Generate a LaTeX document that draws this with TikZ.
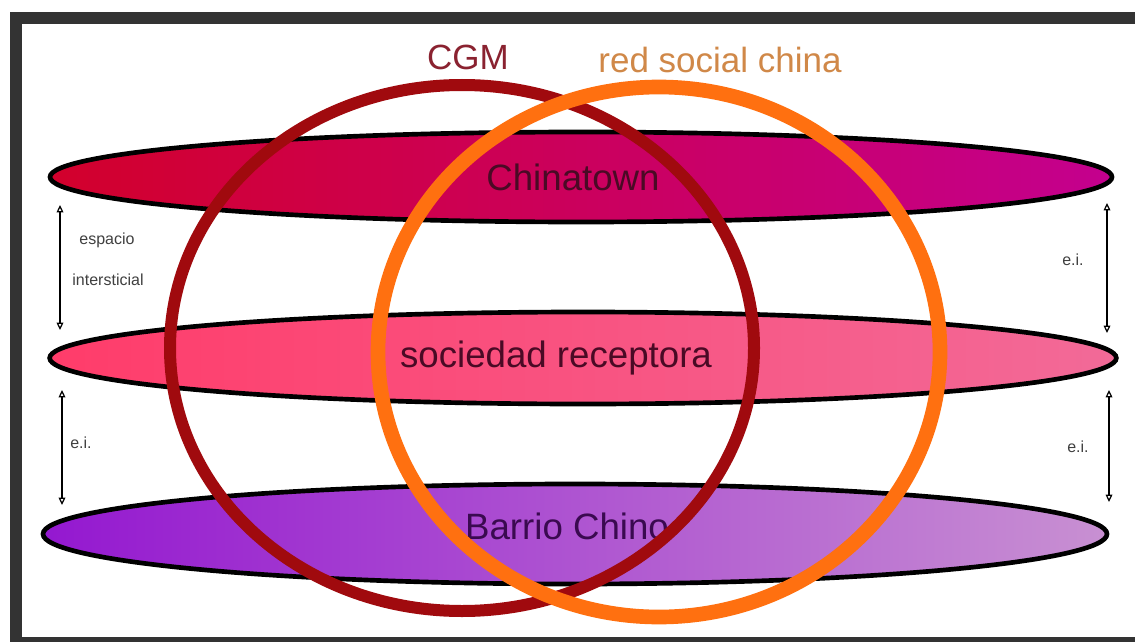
\documentclass[tikz,border=0pt]{standalone}
\usepackage{fontspec}
\setmainfont{Liberation Sans}
\usetikzlibrary{shapes.geometric,arrows.meta}
\definecolor{framec}{HTML}{333333}
\definecolor{ctL}{HTML}{D2002C}
\definecolor{ctR}{HTML}{C4008E}
\definecolor{srL}{HTML}{FF3C6A}
\definecolor{srR}{HTML}{F26A98}
\definecolor{bcL}{HTML}{9418D0}
\definecolor{bcR}{HTML}{C890D2}
\definecolor{cgmc}{HTML}{A00A0E}
\definecolor{orangec}{HTML}{FF7010}
\definecolor{cgmtxt}{HTML}{8A2230}
\definecolor{redtxt}{HTML}{D08848}
\definecolor{laytxt}{HTML}{4A0A25}
\definecolor{bctxt}{HTML}{3A0A50}
\definecolor{smalltxt}{HTML}{404040}
\tikzset{
  layer/.style={ellipse, draw=black, line width=3.5pt, inner sep=0pt, outer sep=0pt},
  ring/.style={ellipse, draw, inner sep=0pt, outer sep=0pt},
  title/.style={font=\fontsize{26.25}{30}\selectfont, inner sep=0pt},
  laylabel/.style={font=\fontsize{27.5}{30}\selectfont, inner sep=0pt},
  small/.style={font=\fontsize{12}{14}\selectfont, text=smalltxt, inner sep=0pt},
  dim/.style={{Triangle[open,length=5.5pt,width=5pt]}-{Triangle[open,length=5.5pt,width=5pt]}, line width=0.9pt, black}
}
\begin{document}
\begin{tikzpicture}[x=0.75pt,y=-0.75pt]
\useasboundingbox (0,0) rectangle (1135,642);
\fill[white] (0,0) rectangle (1135,642);
\draw[line width=9pt, framec] (16,18) rectangle (1170,643);

% layers
\node[layer, minimum width=796.5pt, minimum height=67.5pt, left color=ctL, right color=ctR] (chinatown) at (581,177) {};
\node[layer, minimum width=800pt, minimum height=69pt, left color=srL, right color=srR] (sociedad) at (583,358) {};
\node[layer, minimum width=798pt, minimum height=75pt, left color=bcL, right color=bcR] (barrio) at (575,534) {};

% labels
\node[laylabel, text=laytxt] (ctT) at (573,177) {Chinatown};
\node[laylabel, text=laytxt] (srT) at (556,358) {sociedad receptora};
\node[laylabel, text=bctxt] (bcT) at (567,526) {Barrio Chino};

% rings
\node[ring, draw=cgmc, line width=9pt, minimum width=438pt, minimum height=394.5pt] (cgmring) at (462,348) {};
\node[ring, draw=orangec, line width=11pt, minimum width=421.5pt, minimum height=397.5pt] (redring) at (659,352) {};

% titles
\node[title, text=cgmtxt] (cgm) at (468,57) {CGM};
\node[title, text=redtxt] (redsc) at (720,60) {red social china};

% dimension arrows
\coordinate (l1a) at (60,205); \coordinate (l1b) at (60,330);
\coordinate (l2a) at (62,390); \coordinate (l2b) at (62,505);
\coordinate (r1a) at (1107,203); \coordinate (r1b) at (1107,333);
\coordinate (r2a) at (1109,390); \coordinate (r2b) at (1109,502);
\draw[dim] (l1a) -- (l1b);
\draw[dim] (l2a) -- (l2b);
\draw[dim] (r1a) -- (r1b);
\draw[dim] (r2a) -- (r2b);
\node[small] (esp) at (107,240) {espacio};
\node[small] (int) at (108,280) {intersticial};
\node[small] (ei1) at (81,443) {e.i.};
\node[small] (ei2) at (1073,260) {e.i.};
\node[small] (ei3) at (1078,447) {e.i.};
\end{tikzpicture}
\end{document}
